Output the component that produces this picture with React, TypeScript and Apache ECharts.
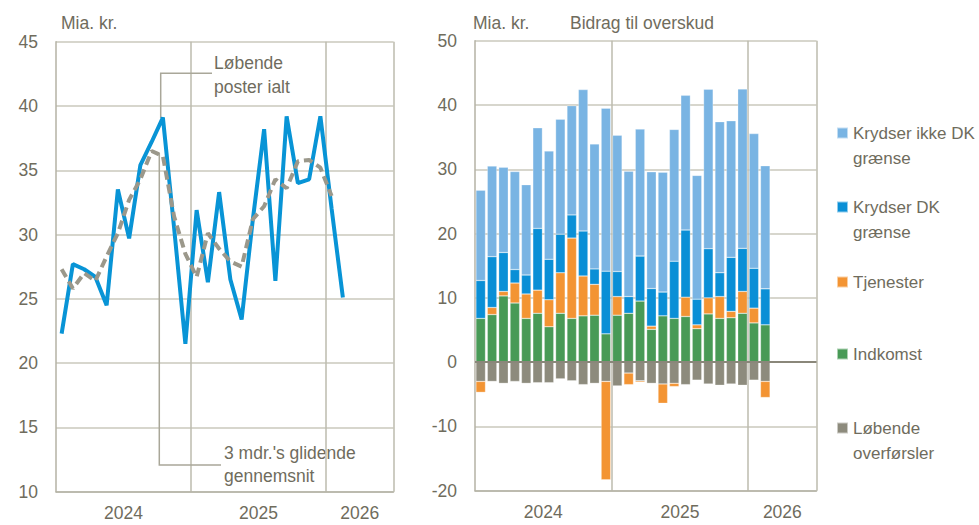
import { useEffect, useRef } from "react";
import * as echarts from "echarts";

// ---------- Data ----------
const months = [
  "2024-01", "2024-02", "2024-03", "2024-04", "2024-05", "2024-06",
  "2024-07", "2024-08", "2024-09", "2024-10", "2024-11", "2024-12",
  "2025-01", "2025-02", "2025-03", "2025-04", "2025-05", "2025-06",
  "2025-07", "2025-08", "2025-09", "2025-10", "2025-11", "2025-12",
  "2026-01", "2026-02", "2026-03", "2026-04", "2026-05", "2026-06",
];
const yearLabelIndex = [6, 18, 27];
const yearLineIndex = [12, 24];

// Left panel (Mia. kr.)
const loebendePoster = [
  22.3, 27.7, 27.3, 26.7, 24.5, 33.5, 29.7, 35.4, 37.2, 39.1, 30.5, 21.5,
  31.9, 26.3, 33.3, 26.5, 23.4, 31.2, 38.2, 26.4, 39.2, 34.0, 34.3, 39.2,
  32.0, 25.1,
];
const glidendeGns = [
  27.3, 25.8, 27.0, 26.4, 28.3, 30.1, 32.7, 34.3, 36.5, 36.1, 31.4, 28.5,
  26.7, 30.1, 28.9, 27.9, 27.5, 31.2, 32.2, 34.3, 33.6, 35.7, 35.8, 35.2,
  33.0,
];

// Right panel (Bidrag til overskud, Mia. kr.)
const indkomst = [
  6.8, 7.4, 10.3, 9.2, 6.8, 7.6, 5.5, 7.6, 6.8, 7.2, 7.3, 4.4,
  7.3, 7.6, 9.5, 5.1, 7.2, 6.8, 7.1, 5.2, 7.5, 6.8, 6.9, 7.6,
  6.1, 5.8,
];
const overfoersler = [
  -3.0, -3.0, -3.3, -3.0, -3.3, -3.2, -3.2, -2.6, -2.9, -3.5, -3.3, -3.0,
  -3.7, -1.7, -2.9, -3.3, -3.4, -3.3, -3.5, -2.8, -3.4, -3.6, -3.4, -3.6,
  -2.8, -3.0,
];
const tjenester = [
  -1.7, 1.1, 0.7, 3.1, 3.8, 3.6, 4.2, 6.3, 12.5, 6.2, 4.8, -15.3,
  2.9, -1.8, -0.2, 0.5, -3.0, -0.5, 3.0, 0.6, 2.5, 3.4, 1.0, 3.4,
  2.3, -2.5,
];
const krydserDK = [
  5.9, 7.9, 6.05, 2.1, 2.95, 9.6, 6.3, 6.0, 3.6, 7.0, 2.4, 9.75,
  3.9, 2.6, 7.0, 5.85, 3.7, 8.9, 10.45, 4.0, 7.65, 3.7, 8.4, 6.7,
  6.2, 5.6,
];
const krydserIkkeDK = [
  14.05, 14.1, 13.25, 15.25, 14.05, 15.65, 16.85, 17.9, 17.0, 22.0, 19.45, 25.35,
  21.2, 19.5, 19.75, 18.15, 18.65, 20.5, 20.95, 19.25, 24.8, 23.5, 21.25, 24.8,
  20.95, 19.15,
];

// ---------- Styling ----------
const FONT = '"Liberation Sans", Arial, sans-serif';
const FS = 17.5;
const FS_LEG = 17;
const TXT = "#6f6c5d";
const GRID = "#cac8bd";
const VLINE = "#bdbbae";
const AXIS = "#b4b2a5";

const C_LIGHT = "#79b4e3";
const C_DARK = "#0a8fd6";
const C_ORANGE = "#f39433";
const C_GREEN = "#489a56";
const C_GRAY = "#8d8b7d";

const LG = { left: 56, top: 41.7, width: 337.5, height: 450 };
const RG = { left: 475, top: 40.7, width: 341.5, height: 450 };

const names = {
  loeb: "Løbende poster ialt",
  glid: "3 mdr.'s glidende gennemsnit",
  ikke: "Krydser ikke DK grænse",
  dk: "Krydser DK grænse",
  tj: "Tjenester",
  ind: "Indkomst",
  ov: "Løbende overførsler",
};
// A leading blank line keeps the marker level with the first text line
const legendText: Record<string, string> = {
  [names.ikke]: "\nKrydser ikke DK\ngrænse",
  [names.dk]: "\nKrydser DK\ngrænse",
  [names.tj]: "Tjenester",
  [names.ind]: "Indkomst",
  [names.ov]: "\nLøbende\noverførsler",
};

function makeX(gridIndex: number, slot: number) {
  return {
    type: "category",
    gridIndex,
    data: months,
    boundaryGap: true,
    axisLine: { show: true, onZero: false, lineStyle: { color: AXIS, width: 1.5 } },
    axisTick: { show: false },
    axisLabel: {
      interval: (i: number) => yearLabelIndex.includes(i),
      formatter: (v: string) => v.slice(0, 4),
      color: TXT,
      fontSize: FS,
      fontFamily: FONT,
      margin: 12,
      padding: [0, slot, 0, 0],
    },
    splitLine: {
      show: true,
      interval: (i: number) => yearLineIndex.includes(i),
      lineStyle: { color: VLINE, width: 1.5 },
    },
  };
}

function makeY(gridIndex: number, min: number, max: number, interval: number) {
  return {
    type: "value",
    gridIndex,
    min,
    max,
    interval,
    axisLine: { show: true, lineStyle: { color: AXIS, width: 1.5 } },
    axisTick: { show: false },
    axisLabel: { color: TXT, fontSize: FS, fontFamily: FONT, margin: 18 },
    splitLine: { show: true, lineStyle: { color: GRID, width: 1.5 } },
  };
}

const barBase = {
  type: "bar",
  xAxisIndex: 1,
  yAxisIndex: 1,
  stack: "bidrag",
  barCategoryGap: "16%",
  itemStyle: { borderColor: "rgba(255,255,255,0.55)", borderWidth: 0.5 },
};

const legendDefs = [
  { name: names.ikke, top: 95.5 },
  { name: names.dk, top: 169.5 },
  { name: names.tj, top: 269.5 },
  { name: names.ind, top: 341.5 },
  { name: names.ov, top: 390.5 },
];

export default function App() {
  const ref = useRef<HTMLDivElement>(null);

  useEffect(() => {
    if (!ref.current) return;
    const chart = echarts.init(ref.current, null, { renderer: "svg" });
    const leaderStyle = { stroke: "#a9a799", lineWidth: 1.5, fill: null };
    const font = `${FS}px ${FONT}`;
    const option: any = {
      animation: false,
      backgroundColor: "#ffffff",
      textStyle: { fontFamily: FONT },
      grid: [
        { left: LG.left, top: LG.top, width: LG.width, height: LG.height },
        { left: RG.left, top: RG.top, width: RG.width, height: RG.height },
      ],
      xAxis: [makeX(0, LG.width / 30), makeX(1, RG.width / 30)],
      yAxis: [makeY(0, 10, 45, 5), makeY(1, -20, 50, 10)],
      legend: legendDefs.map((d) => ({
        data: [{ name: d.name, icon: "rect" }],
        left: 836,
        top: d.top,
        orient: "vertical",
        itemWidth: 11,
        itemHeight: 11,
        itemGap: 0,
        padding: 0,
        selectedMode: false,
        formatter: (n: string) => legendText[n] ?? n,
        textStyle: {
          color: TXT,
          fontSize: FS_LEG,
          fontFamily: FONT,
          lineHeight: 25,
        },
      })),
      series: [
        {
          type: "line",
          name: names.loeb,
          xAxisIndex: 0,
          yAxisIndex: 0,
          data: loebendePoster,
          symbol: "none",
          lineStyle: { color: "#0894d6", width: 4 },
          z: 3,
        },
        {
          type: "line",
          name: names.glid,
          xAxisIndex: 0,
          yAxisIndex: 0,
          data: glidendeGns,
          symbol: "none",
          lineStyle: { color: "#9b988b", width: 4, type: [9, 5] },
          z: 4,
        },
        { ...barBase, name: names.ind, data: indkomst, itemStyle: { ...barBase.itemStyle, color: C_GREEN } },
        {
          ...barBase,
          name: names.ov,
          data: overfoersler,
          itemStyle: { ...barBase.itemStyle, color: C_GRAY },
          markLine: {
            silent: true,
            symbol: "none",
            label: { show: false },
            lineStyle: { color: "#8a877a", width: 2, type: "solid" },
            data: [{ yAxis: 0 }],
            z: 10,
          },
        },
        { ...barBase, name: names.tj, data: tjenester, itemStyle: { ...barBase.itemStyle, color: C_ORANGE } },
        { ...barBase, name: names.dk, data: krydserDK, itemStyle: { ...barBase.itemStyle, color: C_DARK } },
        { ...barBase, name: names.ikke, data: krydserIkkeDK, itemStyle: { ...barBase.itemStyle, color: C_LIGHT } },
      ],
      graphic: [
        {
          type: "text",
          x: 61,
          y: 23,
          style: { text: "Mia. kr.", fill: TXT, font, verticalAlign: "middle" },
        },
        {
          type: "text",
          x: 473,
          y: 23,
          style: { text: "Mia. kr.", fill: TXT, font, verticalAlign: "middle" },
        },
        {
          type: "text",
          x: 570,
          y: 23,
          style: { text: "Bidrag til overskud", fill: TXT, font, verticalAlign: "middle" },
        },
        {
          type: "text",
          x: 214,
          y: 75,
          style: {
            text: "Løbende\nposter ialt",
            fill: TXT,
            font,
            lineHeight: 24,
            verticalAlign: "middle",
          },
        },
        {
          type: "text",
          x: 224,
          y: 464,
          style: {
            text: "3 mdr.'s glidende\ngennemsnit",
            fill: TXT,
            font,
            lineHeight: 23,
            verticalAlign: "middle",
          },
        },
        {
          type: "polyline",
          z: 1,
          shape: { points: [[212, 73.3], [160.7, 73.3], [160.7, 118]] },
          style: leaderStyle,
        },
        {
          type: "polyline",
          z: 1,
          shape: { points: [[221, 465], [159.3, 465], [159.3, 153]] },
          style: leaderStyle,
        },
      ],
    };
    chart.setOption(option);
    return () => chart.dispose();
  }, []);

  return (
    <div
      ref={ref}
      style={{ position: "fixed", left: 0, top: 0, width: 979, height: 525, background: "#fff" }}
    />
  );
}
